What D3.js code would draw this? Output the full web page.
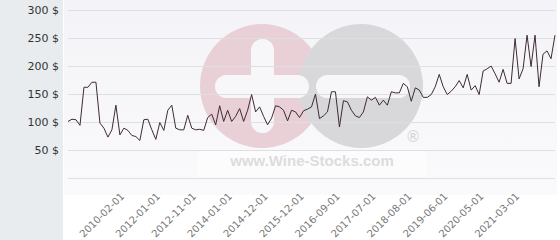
<!DOCTYPE html>
<html>
<head>
<meta charset="utf-8">
<script src="https://cdn.jsdelivr.net/npm/d3@7"></script>
<style>
  body { margin: 0; background: #fff; }
  svg { display: block; }
</style>
</head>
<body>
<svg id="mainsvg" width="560" height="240"></svg>
<script>
var prices = [
  101, 105, 104, 94, 162, 162, 171, 171, 98, 89,
  73, 86, 130, 77, 89, 85, 76, 74, 67, 104,
  105, 86, 69, 99, 85, 121, 130, 89, 86, 86,
  112, 89, 86, 87, 85, 108, 114, 95, 129, 101,
  121, 101, 110, 124, 101, 121, 149, 118, 127, 110,
  95, 107, 129, 127, 121, 102, 121, 118, 108, 120,
  123, 127, 150, 106, 111, 118, 154, 154, 91, 138,
  136, 121, 111, 108, 118, 145, 139, 144, 130, 139,
  130, 154, 152, 152, 169, 163, 137, 161, 157, 144,
  144, 149, 163, 185, 163, 149, 155, 163, 174, 161,
  185, 157, 165, 149, 191, 195, 200, 186, 171, 194,
  169, 169, 249, 177, 195, 255, 199, 255, 163, 221,
  227, 213, 255
];

var dateLabels = [
  "2010-02-01", "2012-01-01", "2012-11-01", "2014-01-01", "2014-12-01", "2015-12-01",
  "2016-09-01", "2017-07-01", "2018-08-01", "2019-06-01", "2020-05-01", "2021-03-01"
];
var dateLabelStart = 13;
var dateLabelEvery = 9;

var gridValues = [0, 50, 100, 150, 200, 250, 300];
var priceTicks = [50, 100, 150, 200, 250, 300];

var svg = d3.select("#mainsvg");

var x = d3.scalePoint()
  .domain(d3.range(prices.length))
  .range([68, 555]);
var y = d3.scaleLinear()
  .domain([0, 300])
  .range([178, 10]);

// panels
svg.append("rect")
  .attr("x", 0).attr("y", 0)
  .attr("width", 63).attr("height", 240)
  .attr("fill", "#e8ecef");

var defs = svg.append("defs");
var grad = defs.append("linearGradient")
  .attr("id", "plotbg")
  .attr("x1", 0).attr("y1", 0).attr("x2", 0).attr("y2", 1);
grad.append("stop").attr("offset", "0%").attr("stop-color", "#f4f4f8");
grad.append("stop").attr("offset", "100%").attr("stop-color", "#fafafc");

svg.append("rect")
  .attr("x", 64).attr("y", 0)
  .attr("width", 493).attr("height", 195)
  .attr("fill", "url(#plotbg)");

// watermark
var mark = svg.append("g").attr("id", "watermark");
mark.append("circle")
  .attr("cx", 262).attr("cy", 86).attr("r", 62)
  .attr("fill", "#e9d0d7");
mark.append("circle")
  .attr("cx", 361).attr("cy", 86).attr("r", 62)
  .attr("fill", "#d8d8db");
mark.append("rect")
  .attr("x", 251).attr("y", 39).attr("width", 23).attr("height", 94)
  .attr("rx", 11.5).attr("fill", "#f7f7fa");
mark.append("rect")
  .attr("x", 215).attr("y", 75).attr("width", 94).attr("height", 23)
  .attr("rx", 11.5).attr("fill", "#f7f7fa");
mark.append("rect")
  .attr("x", 316).attr("y", 75).attr("width", 94).attr("height", 23)
  .attr("rx", 11.5).attr("fill", "#f7f7fa");
mark.append("rect")
  .attr("x", 197).attr("y", 150).attr("width", 230).attr("height", 27)
  .attr("fill", "#fcfcfd");
mark.append("text")
  .attr("x", 312).attr("y", 166)
  .attr("text-anchor", "middle")
  .attr("font-family", "Liberation Sans, Arial, sans-serif")
  .attr("font-weight", "bold")
  .attr("font-size", 15)
  .attr("fill", "#dcdcdf")
  .text("www.Wine-Stocks.com");
mark.append("text")
  .attr("x", 413).attr("y", 142)
  .attr("text-anchor", "middle")
  .attr("font-family", "DejaVu Sans, sans-serif")
  .attr("font-size", 15)
  .attr("fill", "#d4d4d8")
  .text("\u00ae");

// grid
svg.append("g")
  .selectAll("line")
  .data(gridValues)
  .enter()
  .append("line")
  .attr("x1", 68).attr("x2", 555)
  .attr("y1", function (d) { return y(d) + 0.5; })
  .attr("y2", function (d) { return y(d) + 0.5; })
  .attr("stroke", "#dedee3")
  .attr("stroke-width", 1);

// y axis labels
var yAxis = d3.axisLeft(y)
  .tickValues(priceTicks)
  .tickSize(0)
  .tickPadding(0)
  .tickFormat(function (d) { return d + " $"; });
var yg = svg.append("g")
  .attr("transform", "translate(59,0)")
  .call(yAxis);
yg.select(".domain").remove();
yg.selectAll("text")
  .attr("font-family", "DejaVu Sans, sans-serif")
  .attr("font-size", 11)
  .attr("fill", "#333");

// x axis labels
svg.append("g")
  .selectAll("text")
  .data(dateLabels)
  .enter()
  .append("text")
  .attr("transform", function (d, i) {
    var px = x(dateLabelStart + i * dateLabelEvery) + 5;
    return "translate(" + px + ",197) rotate(-45)";
  })
  .attr("text-anchor", "end")
  .attr("font-family", "DejaVu Sans, sans-serif")
  .attr("font-size", 10)
  .attr("fill", "#777")
  .text(function (d) { return d; });

// price line
var line = d3.line()
  .x(function (d, i) { return x(i); })
  .y(function (d) { return y(d); });

svg.append("path")
  .datum(prices)
  .attr("d", line)
  .attr("fill", "none")
  .attr("stroke", "#3f2a33")
  .attr("stroke-width", 1);
</script>
</body>
</html>
